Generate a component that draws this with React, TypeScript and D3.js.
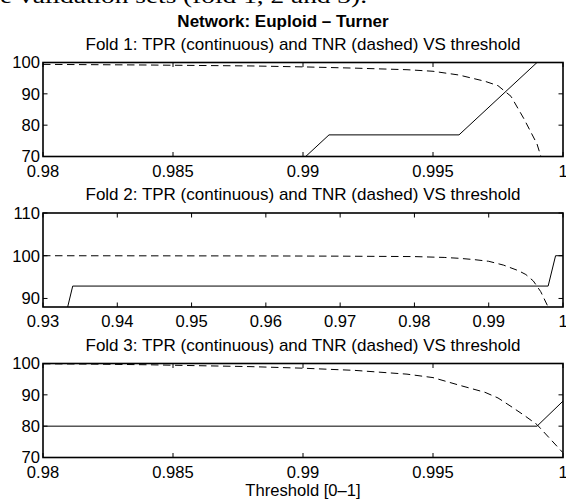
import React from "react";
import * as d3 from "d3";

// ---- Data ----
const fold1TprX = [0.98, 0.989, 0.99, 0.991, 0.996, 0.997, 0.998, 0.999, 1.0];
const fold1TprY = [53.8, 61.5, 69.2, 76.9, 76.9, 84.6, 92.3, 100, 100];
const fold1TnrX = [0.98, 0.984, 0.988, 0.99, 0.992, 0.994, 0.995, 0.996, 0.997, 0.9975, 0.998, 0.9985, 0.999, 0.9993];
const fold1TnrY = [99.4, 99.2, 98.9, 98.6, 98.2, 97.7, 97.2, 96.0, 94.0, 92.6, 89.2, 82.0, 74.0, 66.0];

const fold2TprX = [0.93, 0.933, 0.934, 0.998, 0.999, 1.0];
const fold2TprY = [85.7, 85.7, 92.9, 92.9, 100, 100];
const fold2TnrX = [0.93, 0.96, 0.97, 0.975, 0.98, 0.984, 0.986, 0.988, 0.99, 0.992, 0.994, 0.995, 0.996, 0.997, 0.998, 0.9985];
const fold2TnrY = [100, 99.95, 99.9, 99.85, 99.8, 99.6, 99.4, 99.1, 98.7, 97.8, 96.5, 95.6, 94.1, 91.6, 88.0, 86.0];

const fold3TprX = [0.98, 0.999, 1.0];
const fold3TprY = [80, 80, 88];
const fold3TnrX = [0.98, 0.982, 0.984, 0.986, 0.988, 0.99, 0.992, 0.994, 0.995, 0.996, 0.997, 0.9975, 0.998, 0.9985, 0.999, 0.9995, 1.0];
const fold3TnrY = [99.9, 99.8, 99.6, 99.3, 99.0, 98.5, 97.8, 96.6, 95.5, 93.1, 90.8, 89.0, 86.3, 83.5, 80.5, 76.0, 71.5];

const xTicksA = [0.98, 0.985, 0.99, 0.995, 1];
const xTicksB = [0.93, 0.94, 0.95, 0.96, 0.97, 0.98, 0.99, 1];
const yTicksA = [70, 80, 90, 100];
const yTicksB = [90, 100, 110];

const mainTitle = "Network: Euploid \u2013 Turner";
const panelTitles = [
  "Fold 1: TPR (continuous) and TNR (dashed) VS threshold",
  "Fold 2: TPR (continuous) and TNR (dashed) VS threshold",
  "Fold 3: TPR (continuous) and TNR (dashed) VS threshold",
];
const xLabel = "Threshold [0\u20131]";
const topCaption = "e validation sets (fold 1, 2 and 3).";

type Panel = {
  xDomain: [number, number];
  yDomain: [number, number];
  xTicks: number[];
  yTicks: number[];
  tprX: number[];
  tprY: number[];
  tnrX: number[];
  tnrY: number[];
};

const panels: Panel[] = [
  { xDomain: [0.98, 1], yDomain: [70, 100], xTicks: xTicksA, yTicks: yTicksA, tprX: fold1TprX, tprY: fold1TprY, tnrX: fold1TnrX, tnrY: fold1TnrY },
  { xDomain: [0.93, 1], yDomain: [88, 110], xTicks: xTicksB, yTicks: yTicksB, tprX: fold2TprX, tprY: fold2TprY, tnrX: fold2TnrX, tnrY: fold2TnrY },
  { xDomain: [0.98, 1], yDomain: [70, 100], xTicks: xTicksA, yTicks: yTicksA, tprX: fold3TprX, tprY: fold3TprY, tnrX: fold3TnrX, tnrY: fold3TnrY },
];

const W = 566;
const H = 499;
const left = 43;
const right = 563;
const panelTops = [62.5, 213, 363.5];
const panelH = 94;
const font = "'Liberation Sans', Arial, Helvetica, sans-serif";
const fs = 16.6;
const tickLen = 4.5;

const fmt = (v: number) => String(+v.toFixed(4));

export default function App() {
  return (
    <svg
      width={W}
      height={H}
      style={{ position: "absolute", left: 0, top: 0, background: "#fff" }}
      fontFamily={font}
    >
      <rect x={0} y={0} width={W} height={H} fill="#fff" />
      <text x={0} y={3} textLength={367} lengthAdjust="spacingAndGlyphs" fontFamily="'Liberation Serif', serif" fontSize={21}>
        {topCaption}
      </text>
      <text x={283} y={27} textAnchor="middle" fontWeight="bold" fontSize={17}>
        {mainTitle}
      </text>
      {panels.map((p, i) => {
        const top = panelTops[i];
        const bottom = top + panelH;
        const x = d3.scaleLinear().domain(p.xDomain).range([left, right]);
        const y = d3.scaleLinear().domain(p.yDomain).range([bottom, top]);
        const line = d3
          .line<[number, number]>()
          .x((d) => x(d[0]))
          .y((d) => y(d[1]));
        const tpr = p.tprX.map((v, k) => [v, p.tprY[k]] as [number, number]);
        const tnr = p.tnrX.map((v, k) => [v, p.tnrY[k]] as [number, number]);
        const clipId = `clip${i}`;
        return (
          <g key={i}>
            <defs>
              <clipPath id={clipId}>
                <rect x={left} y={top} width={right - left} height={panelH} />
              </clipPath>
            </defs>
            <text x={(left + right) / 2} y={top - 13} textAnchor="middle" fontSize={17}>
              {panelTitles[i]}
            </text>
            <g clipPath={`url(#${clipId})`}>
              <path d={line(tnr) || ""} fill="none" stroke="#000" strokeWidth={1} strokeDasharray="7.5,4.5" />
              <path d={line(tpr) || ""} fill="none" stroke="#000" strokeWidth={1} />
            </g>
            {p.xTicks.map((t) => (
              <g key={"x" + t}>
                <line x1={x(t)} x2={x(t)} y1={bottom} y2={bottom - tickLen} stroke="#000" strokeWidth={1} />
                <line x1={x(t)} x2={x(t)} y1={top} y2={top + tickLen} stroke="#000" strokeWidth={1} />
                <text x={x(t)} y={bottom + 20} textAnchor="middle" fontSize={fs}>
                  {fmt(t)}
                </text>
              </g>
            ))}
            {p.yTicks.map((t) => (
              <g key={"y" + t}>
                <line x1={left} x2={left + tickLen} y1={y(t)} y2={y(t)} stroke="#000" strokeWidth={1} />
                <line x1={right} x2={right - tickLen} y1={y(t)} y2={y(t)} stroke="#000" strokeWidth={1} />
                <text x={left - 3} y={y(t)} dy="0.36em" textAnchor="end" fontSize={fs}>
                  {t}
                </text>
              </g>
            ))}
            <rect x={left} y={top} width={right - left} height={panelH} fill="none" stroke="#000" strokeWidth={1.6} />
          </g>
        );
      })}
      <text x={(left + right) / 2} y={496} textAnchor="middle" fontSize={fs}>
        {xLabel}
      </text>
    </svg>
  );
}
